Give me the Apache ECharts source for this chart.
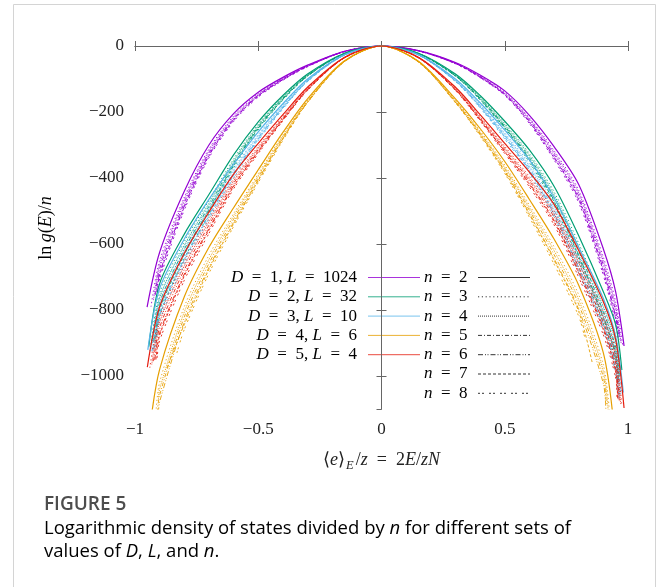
<!DOCTYPE html>
<html>
<head>
<meta charset="utf-8">
<script src="https://cdn.jsdelivr.net/npm/echarts@6/dist/echarts.min.js"></script>
<style>
  html, body { margin: 0; padding: 0; background: #fff; }
  #chart { width: 658px; height: 587px; }
</style>
</head>
<body>
<div id="chart"></div>
<script>
// energy grid shared by all curves (ends are kept per curve)
const eGrid = [-0.9, -0.8, -0.7, -0.6, -0.5, -0.4, -0.3, -0.15, 0, 0.15, 0.3, 0.4, 0.5, 0.6, 0.7, 0.8, 0.9, 0.95]

const dims = [1, 2, 3, 4, 5]
const sizes = [1024, 32, 10, 6, 4]
const nValues = [2, 3, 4, 5, 6, 7, 8]

const xTicks = [-1, -0.5, 0, 0.5, 1]
const yTicks = [0, -200, -400, -600, -800, -1000]

// ln g(E)/n, one row per n = 2..8
const lnG_D1 = [
  [-625, -440, -300, -205, -140, -95, -58, -16, 0, -14, -50, -88, -136, -210, -305, -420, -615, -745],
  [-650, -458, -312, -212, -144, -98, -59, -16, 0, -14, -51, -90, -140, -218, -317, -437, -640, -775],
  [-663, -466, -318, -216, -147, -99, -60, -16, 0, -14, -52, -92, -143, -221, -323, -445, -652, -790],
  [-675, -475, -324, -220, -149, -100, -61, -17, 0, -15, -52, -93, -145, -225, -329, -454, -664, -805],
  [-688, -484, -330, -223, -151, -102, -61, -17, 0, -15, -53, -94, -147, -229, -336, -462, -677, -820],
  [-694, -488, -333, -225, -152, -102, -62, -17, 0, -15, -53, -95, -148, -231, -339, -466, -683, -827],
  [-706, -497, -339, -229, -155, -104, -63, -17, 0, -15, -54, -96, -150, -235, -345, -475, -695, -842]
]
const ends_D1 = [
  [[-0.951, -791], [0.984, -909]],
  [[-0.935, -790], [0.978, -905]],
  [[-0.925, -770], [0.972, -900]],
  [[-0.918, -755], [0.968, -890]],
  [[-0.912, -745], [0.965, -880]],
  [[-0.91, -745], [0.962, -880]],
  [[-0.906, -745], [0.96, -885]]
]

const lnG_D2 = [
  [-720, -570, -450, -330, -230, -150, -85, -22, 0, -22, -85, -150, -228, -315, -425, -575, -745, -845],
  [-749, -593, -468, -342, -237, -154, -87, -22, 0, -22, -87, -154, -235, -326, -442, -598, -775, -879],
  [-763, -604, -477, -348, -241, -156, -88, -23, 0, -23, -88, -156, -239, -332, -451, -610, -790, -896],
  [-778, -616, -486, -354, -245, -158, -89, -23, 0, -23, -89, -158, -243, -338, -459, -621, -805, -913],
  [-792, -627, -495, -360, -248, -161, -90, -23, 0, -23, -90, -161, -246, -343, -468, -633, -820, -930],
  [-799, -633, -500, -363, -250, -162, -91, -23, 0, -23, -91, -162, -248, -346, -472, -638, -827, -938],
  [-814, -644, -509, -369, -254, -164, -92, -23, 0, -23, -92, -164, -252, -352, -480, -650, -842, -955]
]
const ends_D2 = [
  [[-0.944, -911], [0.975, -982]],
  [[-0.935, -905], [0.97, -990]],
  [[-0.93, -900], [0.968, -1000]],
  [[-0.925, -895], [0.965, -1005]],
  [[-0.92, -890], [0.962, -1010]],
  [[-0.915, -880], [0.96, -1015]],
  [[-0.912, -880], [0.958, -1020]]
]

const lnG_D3 = [
  [-735, -585, -465, -358, -260, -175, -100, -26, 0, -26, -100, -172, -255, -345, -460, -610, -765, -880],
  [-764, -608, -484, -371, -268, -180, -102, -27, 0, -27, -102, -177, -263, -357, -478, -634, -796, -915],
  [-779, -620, -493, -377, -272, -182, -104, -27, 0, -27, -104, -179, -267, -364, -488, -647, -811, -933],
  [-794, -632, -502, -384, -277, -185, -105, -27, 0, -27, -105, -182, -271, -370, -497, -659, -826, -950],
  [-809, -644, -512, -390, -281, -187, -106, -27, 0, -27, -106, -184, -275, -376, -506, -671, -842, -968],
  [-816, -649, -516, -393, -283, -188, -107, -27, 0, -27, -107, -185, -277, -379, -511, -677, -849, -977],
  [-831, -661, -525, -400, -287, -191, -108, -28, 0, -28, -108, -188, -282, -385, -520, -689, -864, -994]
]
const ends_D3 = [
  [[-0.948, -921], [0.981, -1050]],
  [[-0.94, -925], [0.975, -1050]],
  [[-0.935, -925], [0.972, -1055]],
  [[-0.93, -925], [0.97, -1060]],
  [[-0.925, -920], [0.966, -1065]],
  [[-0.92, -915], [0.963, -1065]],
  [[-0.915, -910], [0.96, -1070]]
]

const lnG_D4 = [
  [-980, -760, -610, -490, -375, -262, -160, -45, 0, -46, -160, -250, -350, -465, -585, -725, -930, null],
  [-1019, -790, -634, -508, -387, -269, -164, -46, 0, -47, -164, -257, -361, -482, -608, -754, -967, null],
  [-1039, -806, -647, -516, -393, -273, -166, -46, 0, -47, -166, -261, -367, -490, -620, -769, -986, null],
  [-1058, -821, -659, -525, -399, -277, -168, -47, 0, -48, -168, -264, -372, -498, -632, -783, -1004, null],
  [-1078, -836, -671, -534, -405, -280, -170, -47, 0, -48, -170, -268, -378, -507, -644, -798, -1023, null],
  [null, -844, -677, -539, -408, -282, -171, -47, 0, -49, -171, -269, -381, -511, -649, -805, null, null],
  [null, -859, -689, -547, -414, -286, -172, -48, 0, -49, -172, -273, -386, -519, -661, -819, null, null]
]
const ends_D4 = [
  [[-0.935, -1130], [0.94, -1130]],
  [[-0.915, -1110], [0.925, -1110]],
  [[-0.905, -1070], [0.92, -1110]],
  [[-0.91, -1110], [0.912, -1090]],
  [[-0.905, -1110], [0.91, -1100]],
  [[-0.87, -975], [0.855, -960]],
  [[-0.83, -930], [0.825, -885]]
]

const lnG_D5 = [
  [-790, -628, -503, -388, -295, -208, -125, -34, 0, -34, -125, -208, -295, -382, -480, -620, -775, -890],
  [-822, -653, -523, -402, -304, -214, -128, -35, 0, -35, -128, -214, -304, -396, -499, -645, -806, -926],
  [-837, -666, -533, -409, -309, -217, -130, -35, 0, -35, -130, -217, -309, -403, -509, -657, -822, -943],
  [-853, -678, -543, -416, -314, -220, -131, -35, 0, -35, -131, -220, -314, -409, -518, -670, -837, -961],
  [-869, -691, -553, -423, -319, -223, -133, -36, 0, -36, -133, -223, -319, -416, -528, -682, -853, -979],
  [-877, -697, -558, -426, -321, -224, -133, -36, 0, -36, -133, -224, -321, -420, -533, -688, -860, -988],
  [-893, -710, -568, -433, -326, -227, -135, -36, 0, -36, -135, -227, -326, -427, -542, -701, -876, -1006]
]
const ends_D5 = [
  [[-0.95, -973], [0.984, -1097]],
  [[-0.94, -975], [0.975, -1090]],
  [[-0.932, -965], [0.97, -1085]],
  [[-0.925, -955], [0.965, -1080]],
  [[-0.92, -951], [0.96, -1070]],
  [[-0.915, -950], [0.958, -1070]],
  [[-0.91, -945], [0.955, -1065]]
]

const dRows = [lnG_D1, lnG_D2, lnG_D3, lnG_D4, lnG_D5]
const dEnds = [ends_D1, ends_D2, ends_D3, ends_D4, ends_D5]

const colors = ['#9400d3', '#009e73', '#56b4e9', '#e69f00', '#e51e10']
const dashes = ['solid', [1.2, 2.6], [1, 1], [4, 2, 1, 2], [5, 2, 1, 1.5, 1, 2], [3, 2], [2, 2, 2, 5]]
const frame = '#666'
const serif = 'Liberation Serif'
const sans = 'Open Sans'
const eq = '\u2002=\u2002'

function curve(row, end) {
  const pts = [end[0]]
  row.forEach((v, i) => { if (v !== null) pts.push([eGrid[i], v]) })
  pts.push(end[1])
  return pts
}

function minus(v) {
  return v < 0 ? '\u2212' + Math.abs(v) : String(v)
}

const series = []
dRows.forEach((rows, d) => {
  rows.forEach((row, k) => {
    series.push({
      type: 'line',
      name: 'D' + dims[d] + ' n' + nValues[k],
      data: curve(row, dEnds[d][k]),
      showSymbol: false,
      smooth: 0.3,
      silent: true,
      z: k === 0 ? 3 : 2,
      lineStyle: { color: colors[d], width: k === 0 ? 1.2 : 0.9, type: dashes[k] },
      itemStyle: { color: colors[d] }
    })
  })
})

const mathRich = {
  r: { fontFamily: serif, fontSize: 17, color: '#222' },
  i: { fontFamily: serif, fontSize: 17, fontStyle: 'italic', color: '#222' },
  sub: { fontFamily: serif, fontSize: 12, fontStyle: 'italic', color: '#222', padding: [9, 1, 0, 1] }
}
const nameRich = {
  r: { fontFamily: serif, fontSize: 18, color: '#222' },
  i: { fontFamily: serif, fontSize: 18, fontStyle: 'italic', color: '#222' },
  sub: { fontFamily: serif, fontSize: 12.5, fontStyle: 'italic', color: '#222', padding: [10, 2, 0, 1] }
}

// key, drawn by hand to keep the two gnuplot columns
const graphic = []
const keyTop = 277.5, keyStep = 19.3
dims.forEach((dv, i) => {
  const y = keyTop + i * keyStep
  graphic.push({
    type: 'text', x: 357, y: y,
    style: {
      text: '{i|D}{r|' + eq + dv + ', }{i|L}{r|' + eq + sizes[i] + '}',
      rich: mathRich, align: 'right', verticalAlign: 'middle'
    }
  })
  graphic.push({
    type: 'line', shape: { x1: 368, y1: y, x2: 420, y2: y },
    style: { stroke: colors[i], lineWidth: 1, opacity: 0.8 }
  })
})
nValues.forEach((nv, k) => {
  const y = keyTop + k * keyStep
  graphic.push({
    type: 'text', x: 424, y: y,
    style: { text: '{i|n}{r|' + eq + nv + '}', rich: mathRich, align: 'left', verticalAlign: 'middle' }
  })
  graphic.push({
    type: 'line', shape: { x1: 478, y1: y, x2: 530, y2: y },
    style: { stroke: '#333', lineWidth: 1, lineDash: dashes[k] === 'solid' ? null : dashes[k] }
  })
})

// y axis title
graphic.push({
  type: 'text', x: 46, y: 228, rotation: Math.PI / 2,
  style: {
    text: '{r|ln\u2009}{i|g}{r|(}{i|E}{r|)/}{i|n}',
    rich: nameRich, align: 'center', verticalAlign: 'middle'
  }
})

// card frame and caption
graphic.push({
  type: 'rect', shape: { x: 13.5, y: 4.5, width: 642, height: 640 },
  style: { fill: 'none', stroke: '#d4d4d4', lineWidth: 1 }, z: -1
})
graphic.push({
  type: 'text', x: 44, y: 505,
  style: { text: 'FIGURE 5', fontFamily: sans, fontSize: 19, fontWeight: 600, fill: '#4d4d4d', verticalAlign: 'middle' }
})
const capRich = {
  c: { fontFamily: sans, fontSize: 18.5, color: '#666' },
  ci: { fontFamily: sans, fontSize: 18.5, color: '#666', fontStyle: 'italic' }
}
graphic.push({
  type: 'text', x: 44, y: 529,
  style: {
    text: '{c|Logarithmic density of states divided by }{ci|n}{c| for different sets of}',
    rich: capRich, verticalAlign: 'middle'
  }
})
graphic.push({
  type: 'text', x: 44, y: 552,
  style: {
    text: '{c|values of }{ci|D}{c|, }{ci|L}{c|, and }{ci|n}{c|.}',
    rich: capRich, verticalAlign: 'middle'
  }
})

const xBase = {
  type: 'value', min: xTicks[0], max: xTicks[xTicks.length - 1], interval: 0.5,
  axisLine: { show: true, lineStyle: { color: frame, width: 1 } },
  axisTick: { show: true, inside: true, length: 5, lineStyle: { color: frame } },
  splitLine: { show: false }
}
const yBase = {
  type: 'value', min: -1100, max: 0, splitNumber: 5,
  axisLine: { show: true, lineStyle: { color: frame, width: 1 } },
  axisTick: { show: true, inside: true, length: 5, lineStyle: { color: frame } },
  splitLine: { show: false }
}

const chart = echarts.init(document.getElementById('chart'), null, { renderer: 'canvas' })
chart.setOption({
  animation: false,
  backgroundColor: '#fff',
  grid: { left: 135, right: 30, top: 46, bottom: 178 },
  xAxis: [
    Object.assign({}, xBase, {
      position: 'bottom',
      axisLabel: {
        margin: 12, fontFamily: serif, fontSize: 17, color: '#222',
        formatter: v => xTicks.includes(v) ? minus(v) : ''
      },
      name: '{r|\u27e8}{i|e}{r|\u27e9}{sub|E}{r|/}{i|z}{r|' + eq + '2}{i|E}{r|/}{i|zN}',
      nameLocation: 'middle', nameGap: 40,
      nameTextStyle: { rich: nameRich }
    }),
    Object.assign({}, xBase, { position: 'top', axisLabel: { show: false } })
  ],
  yAxis: [
    Object.assign({}, yBase, {
      position: 'left',
      axisLabel: {
        margin: 11, fontFamily: serif, fontSize: 17, color: '#222', showMinLabel: false,
        formatter: v => yTicks.includes(v) ? minus(v) : ''
      }
    }),
    Object.assign({}, yBase, { position: 'right', axisLabel: { show: false } })
  ],
  graphic: graphic,
  series: series
})
</script>
</body>
</html>
